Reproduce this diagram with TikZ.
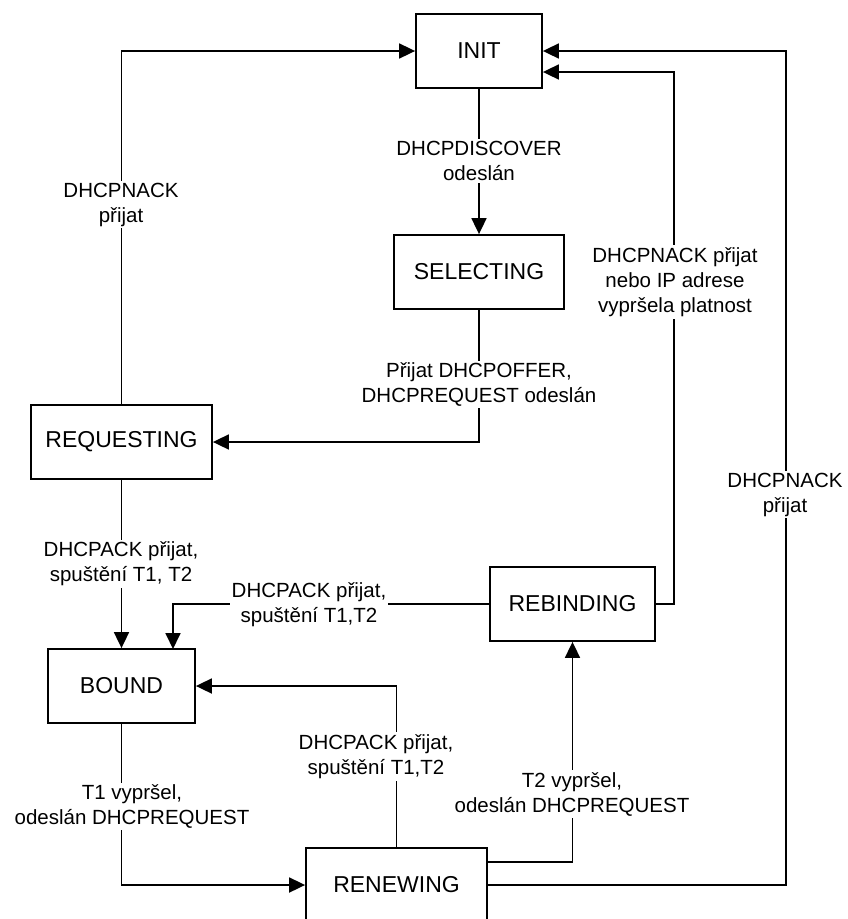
\documentclass[tikz,border=0pt]{standalone}
\usepackage{fontspec}
\setmainfont{Liberation Sans}
\usetikzlibrary{arrows.meta}
\begin{document}
\begin{tikzpicture}[x=1pt,y=-1pt,
  state/.style={draw, line width=1.8pt, minimum height=74pt, inner sep=0pt, font=\fontsize{23}{27}\selectfont},
  conn/.style={line width=1.8pt, -{Triangle[length=16pt,width=15pt]}},
  lbl/.style={fill=white, align=center, inner sep=2pt, font=\fontsize{20.5}{25}\selectfont}]
\useasboundingbox (0,0) rectangle (847,919);
\clip (0,0) rectangle (847,919);

\node[state, minimum width=126pt] (init) at (479,51) {INIT};
\node[state, minimum width=170pt] (selecting) at (479,272) {SELECTING};
\node[state, minimum width=181pt] (requesting) at (121.5,442) {REQUESTING};
\node[state, minimum width=147pt] (bound) at (121.5,686) {BOUND};
\node[state, minimum width=165pt] (rebinding) at (572.5,604) {REBINDING};
\node[state, minimum width=181pt] (renewing) at (396.5,885) {RENEWING};

\coordinate (c1) at (674,72);
\coordinate (c2) at (786,51);
\coordinate (b2) at (173,649);

\draw[conn] (init.south) -- (selecting.north);
\draw[conn] (selecting.south) |- (requesting.east);
\draw[conn] (requesting.north) |- (init.west);
\draw[conn] (requesting.south) -- (bound.north);
\draw[conn] (rebinding.west) -| (b2);
\draw[conn] (rebinding.east) -| (c1) -- (c1 -| init.east);
\draw[conn] (bound.south) |- (renewing.west);
\draw[conn] (renewing.north) |- (bound.east);
\draw[conn] ([yshift=23pt]renewing.east) -| (rebinding.south);
\draw[conn] (renewing.east) -| (c2) -- (init.east);

\node[lbl] (l1) at (479,161) {DHCPDISCOVER\\odeslán};
\node[lbl] (l2) at (479,384.5) {Přijat DHCPOFFER,\\DHCPREQUEST odeslán};
\node[lbl] (l3) at (121,204.5) {DHCPNACK\\přijat};
\node[lbl] (l4) at (121,564) {DHCPACK přijat,\\spuštění T1, T2};
\node[lbl] (l5) at (309,604.5) {DHCPACK přijat,\\spuštění T1,T2};
\node[lbl] (l6) at (675,282) {DHCPNACK přijat\\nebo IP adrese\\vypršela platnost};
\node[lbl] (l7) at (132,806.5) {T1 vypršel,\\odeslán DHCPREQUEST};
\node[lbl] (l8) at (376,756.5) {DHCPACK přijat,\\spuštění T1,T2};
\node[lbl] (l9) at (572,794) {T2 vypršel,\\odeslán DHCPREQUEST};
\node[lbl] (l10) at (785,494.5) {DHCPNACK\\přijat};
\end{tikzpicture}
\end{document}
